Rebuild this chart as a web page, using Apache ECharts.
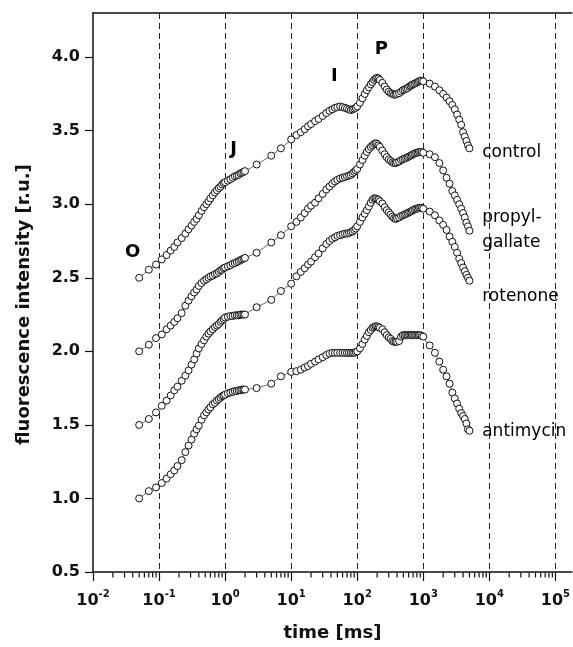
<!DOCTYPE html>
<html>
<head>
<meta charset="utf-8">
<script src="https://cdn.jsdelivr.net/npm/echarts@6.0.0/dist/echarts.min.js"></script>
<style>
  html, body { margin: 0; padding: 0; background: #fff; }
  #chart { width: 573px; height: 647px; }
</style>
</head>
<body>
<div id="chart"></div>
<script>
// time points (ms), shared by all four OJIP curves
const timeMs = [
  0.05, 0.07, 0.09, 0.11, 0.13, 0.15, 0.17, 0.19, 0.22, 0.25, 0.28, 0.31, 0.34, 0.37, 0.4,
  0.44, 0.48, 0.52, 0.56, 0.6, 0.65, 0.7, 0.75, 0.8, 0.85, 0.9, 0.95, 1.0,
  1.1, 1.2, 1.3, 1.4, 1.5, 1.6, 1.7, 1.8, 1.9, 2.0,
  3, 5, 7, 10,
  12, 14, 16, 18, 20, 23, 26, 30, 34, 38, 42, 46, 50, 55, 60, 65, 70, 75, 80, 85, 90, 95, 100,
  110, 120, 130, 140, 150, 160, 170, 180, 190, 200, 210, 220,
  240, 260, 280, 300, 320, 340, 360, 380, 400,
  430, 460, 490, 520, 550, 580, 610, 640, 670, 700,
  740, 780, 820, 860, 900, 950, 1000,
  1250, 1500, 1750, 2000, 2250, 2500, 2750, 3000, 3250, 3500, 3750, 4000, 4250, 4500, 4750, 5000
];

const control = [
  2.50, 2.555, 2.59, 2.625, 2.655, 2.685, 2.71, 2.74, 2.77, 2.80, 2.83, 2.855, 2.88, 2.90, 2.925,
  2.955, 2.98, 3.00, 3.02, 3.04, 3.06, 3.08, 3.095, 3.11, 3.12, 3.135, 3.145, 3.15,
  3.16, 3.17, 3.18, 3.19, 3.195, 3.20, 3.21, 3.215, 3.22, 3.225,
  3.27, 3.33, 3.38, 3.44,
  3.47, 3.49, 3.51, 3.53, 3.545, 3.565, 3.58, 3.60, 3.62, 3.635, 3.645, 3.655, 3.66, 3.665, 3.66, 3.655, 3.65, 3.645, 3.64, 3.645, 3.65, 3.655, 3.665,
  3.69, 3.72, 3.75, 3.775, 3.795, 3.815, 3.83, 3.845, 3.855, 3.86, 3.855, 3.845,
  3.825, 3.80, 3.78, 3.765, 3.755, 3.75, 3.745, 3.745, 3.75,
  3.755, 3.765, 3.775, 3.78, 3.785, 3.79, 3.80, 3.805, 3.81, 3.815,
  3.82, 3.825, 3.83, 3.835, 3.84, 3.84, 3.835,
  3.82, 3.80, 3.775, 3.75, 3.725, 3.70, 3.675, 3.645, 3.61, 3.575, 3.54, 3.49, 3.46, 3.43, 3.40, 3.38
];

const propylGallate = [
  2.00, 2.045, 2.09, 2.115, 2.15, 2.175, 2.20, 2.225, 2.26, 2.31, 2.345, 2.375, 2.40, 2.42, 2.445,
  2.465, 2.48, 2.49, 2.50, 2.51, 2.515, 2.525, 2.53, 2.54, 2.55, 2.555, 2.565, 2.57,
  2.578, 2.585, 2.595, 2.60, 2.607, 2.613, 2.62, 2.625, 2.63, 2.635,
  2.67, 2.74, 2.79, 2.85,
  2.88, 2.91, 2.94, 2.97, 2.99, 3.01, 3.04, 3.07, 3.10, 3.12, 3.14, 3.155, 3.165, 3.175, 3.18, 3.185, 3.19, 3.195, 3.20, 3.21, 3.22, 3.23, 3.24,
  3.27, 3.30, 3.33, 3.355, 3.375, 3.39, 3.40, 3.41, 3.415, 3.41, 3.40, 3.39,
  3.365, 3.34, 3.32, 3.305, 3.295, 3.285, 3.28, 3.28, 3.285,
  3.29, 3.30, 3.305, 3.31, 3.315, 3.32, 3.325, 3.33, 3.335, 3.34,
  3.345, 3.35, 3.35, 3.355, 3.355, 3.355, 3.35,
  3.34, 3.32, 3.28, 3.23, 3.18, 3.14, 3.09, 3.06, 3.03, 3.00, 2.97, 2.94, 2.91, 2.875, 2.85, 2.82
];

const rotenone = [
  1.50, 1.54, 1.585, 1.63, 1.665, 1.70, 1.735, 1.76, 1.80, 1.835, 1.87, 1.91, 1.945, 1.985, 2.02,
  2.05, 2.075, 2.10, 2.12, 2.135, 2.15, 2.165, 2.175, 2.185, 2.20, 2.21, 2.22, 2.23,
  2.235, 2.24, 2.24, 2.245, 2.245, 2.245, 2.25, 2.25, 2.25, 2.25,
  2.30, 2.35, 2.41, 2.46,
  2.51, 2.54, 2.565, 2.59, 2.61, 2.64, 2.665, 2.70, 2.73, 2.75, 2.765, 2.775, 2.785, 2.79, 2.795, 2.80, 2.80, 2.805, 2.81, 2.815, 2.825, 2.835, 2.85,
  2.88, 2.91, 2.935, 2.96, 2.985, 3.01, 3.03, 3.04, 3.04, 3.035, 3.03, 3.02,
  3.005, 2.98, 2.96, 2.945, 2.93, 2.915, 2.905, 2.90, 2.905,
  2.91, 2.92, 2.925, 2.93, 2.935, 2.94, 2.945, 2.95, 2.955, 2.96,
  2.965, 2.97, 2.97, 2.975, 2.975, 2.975, 2.97,
  2.95, 2.925, 2.89, 2.86, 2.825, 2.78, 2.745, 2.71, 2.67, 2.63, 2.60, 2.57, 2.545, 2.52, 2.50, 2.48
];

const antimycin = [
  1.00, 1.05, 1.075, 1.105, 1.135, 1.165, 1.19, 1.22, 1.26, 1.315, 1.36, 1.40, 1.44, 1.47, 1.495,
  1.535, 1.565, 1.585, 1.605, 1.62, 1.64, 1.65, 1.665, 1.675, 1.685, 1.695, 1.70, 1.705,
  1.715, 1.72, 1.725, 1.73, 1.73, 1.735, 1.735, 1.74, 1.74, 1.74,
  1.75, 1.78, 1.83, 1.86,
  1.865, 1.875, 1.89, 1.90, 1.915, 1.93, 1.945, 1.96, 1.975, 1.985, 1.99, 1.99, 1.99, 1.99, 1.99, 1.99, 1.99, 1.99, 1.99, 1.99, 1.99, 1.995, 2.00,
  2.02, 2.05, 2.08, 2.105, 2.13, 2.145, 2.16, 2.165, 2.17, 2.17, 2.165, 2.16,
  2.15, 2.13, 2.11, 2.095, 2.085, 2.07, 2.065, 2.065, 2.065,
  2.07, 2.10, 2.11, 2.11, 2.11, 2.11, 2.11, 2.11, 2.11, 2.11,
  2.11, 2.11, 2.11, 2.11, 2.11, 2.105, 2.10,
  2.04, 1.99, 1.93, 1.875, 1.83, 1.78, 1.72, 1.68, 1.645, 1.61, 1.58, 1.56, 1.54, 1.51, 1.47, 1.46
];

const yTicks = [0.5, 1.0, 1.5, 2.0, 2.5, 3.0, 3.5, 4.0];
const xMinorTicks = [
  0.02, 0.03, 0.04, 0.05, 0.06, 0.07, 0.08, 0.09,
  0.2, 0.3, 0.4, 0.5, 0.6, 0.7, 0.8, 0.9,
  2, 3, 4, 5, 6, 7, 8, 9,
  20, 30, 40, 50, 60, 70, 80, 90,
  200, 300, 400, 500, 600, 700, 800, 900,
  2000, 3000, 4000, 5000, 6000, 7000, 8000, 9000,
  20000, 30000, 40000, 50000, 60000, 70000, 80000, 90000
];

// phase letters and curve names: [text, time, value]
const phaseLabels = [['O', 0.040, 2.67], ['J', 1.35, 3.37], ['I', 45, 3.87], ['P', 232, 4.05]];
const curveLabels = [
  ['control', 7800, 3.35],
  ['propyl-', 7800, 2.91],
  ['gallate', 7800, 2.74],
  ['rotenone', 7800, 2.37],
  ['antimycin', 7800, 1.455]
];

const FONT = 'DejaVu Sans';
const Y_MIN = 0.5;
const X_MIN = 0.01;
const X_MAX = Math.pow(10, 5.25);

const chart = echarts.init(document.getElementById('chart'));

const curveSeries = (name, values) => ({
  name: name,
  type: 'line',
  data: timeMs.map((t, i) => [t, values[i]]),
  symbol: 'circle',
  symbolSize: 7,
  showAllSymbol: true,
  itemStyle: { color: '#fff', borderColor: '#111', borderWidth: 1 },
  lineStyle: { color: '#444', width: 0.8 },
  emphasis: { disabled: true },
  z: 3
});

const textSeries = (items, style) => ({
  type: 'scatter',
  symbolSize: 0,
  itemStyle: { color: '#000', opacity: 1 },
  silent: true,
  z: 5,
  data: items.map(d => ({ name: d[0], value: [d[1], d[2]] })),
  label: Object.assign({ show: true, formatter: p => p.name, color: '#000', fontFamily: FONT }, style)
});

const option = {
  animation: false,
  backgroundColor: '#fff',
  grid: { left: 93, right: 0, top: 13, bottom: 75 },
  xAxis: [
    {
      type: 'log',
      logBase: 10,
      min: X_MIN,
      max: X_MAX,
      name: 'time [ms]',
      nameLocation: 'middle',
      nameGap: 52,
      nameTextStyle: { fontFamily: FONT, fontWeight: 'bold', fontSize: 18, color: '#111' },
      axisLine: { lineStyle: { color: '#111', width: 1.5 } },
      axisTick: { length: 9, lineStyle: { color: '#111', width: 1.2 } },
      axisLabel: {
        margin: 17,
        showMaxLabel: false,
        formatter: v => {
          const e = Math.round(Math.log10(v));
          if (Math.abs(Math.log10(v) - e) > 1e-6) return '';
          return '{b|10}{s|' + e + '}';
        },
        rich: {
          b: { fontFamily: FONT, fontWeight: 'bold', fontSize: 16, color: '#111', lineHeight: 20, verticalAlign: 'bottom' },
          s: { fontFamily: FONT, fontWeight: 'bold', fontSize: 10, color: '#111', lineHeight: 10, verticalAlign: 'top' }
        }
      },
      splitLine: {
        show: true,
        showMinLine: false,
        showMaxLine: false,
        lineStyle: { color: '#222', width: 1, type: [6, 4] }
      }
    },
    {
      type: 'log',
      logBase: 10,
      min: X_MIN,
      max: X_MAX,
      position: 'top',
      axisLine: { lineStyle: { color: '#111', width: 1.5 } },
      axisTick: { show: false },
      axisLabel: { show: false },
      splitLine: { show: false }
    }
  ],
  yAxis: {
    type: 'value',
    min: Y_MIN,
    max: 4.3,
    interval: 0.5,
    name: 'fluorescence intensity [r.u.]',
    nameLocation: 'middle',
    nameGap: 60,
    nameTextStyle: { fontFamily: FONT, fontWeight: 'bold', fontSize: 18, color: '#111', padding: [0, 24, 0, 0] },
    axisLine: { show: true, lineStyle: { color: '#111', width: 1.5 } },
    axisTick: { show: true, length: 8, customValues: yTicks, lineStyle: { color: '#111', width: 1.2 } },
    axisLabel: {
      margin: 13,
      customValues: yTicks,
      formatter: v => v.toFixed(1),
      fontFamily: FONT,
      fontWeight: 'bold',
      fontSize: 16,
      color: '#111'
    },
    splitLine: { show: false }
  },
  series: [
    curveSeries('control', control),
    curveSeries('propyl-gallate', propylGallate),
    curveSeries('rotenone', rotenone),
    curveSeries('antimycin', antimycin),
    textSeries(phaseLabels, { position: 'inside', fontWeight: 'bold', fontSize: 18 }),
    textSeries(curveLabels, { position: 'right', distance: 0, fontSize: 17 }),
    {
      // minor ticks of the log time axis (2..9 per decade)
      type: 'scatter',
      silent: true,
      clip: false,
      symbol: 'rect',
      symbolSize: [1.2, 5],
      symbolOffset: [0, 3],
      itemStyle: { color: '#111', opacity: 1 },
      z: 6,
      data: xMinorTicks.map(t => [t, Y_MIN])
    }
  ]
};

chart.setOption(option);
</script>
</body>
</html>
